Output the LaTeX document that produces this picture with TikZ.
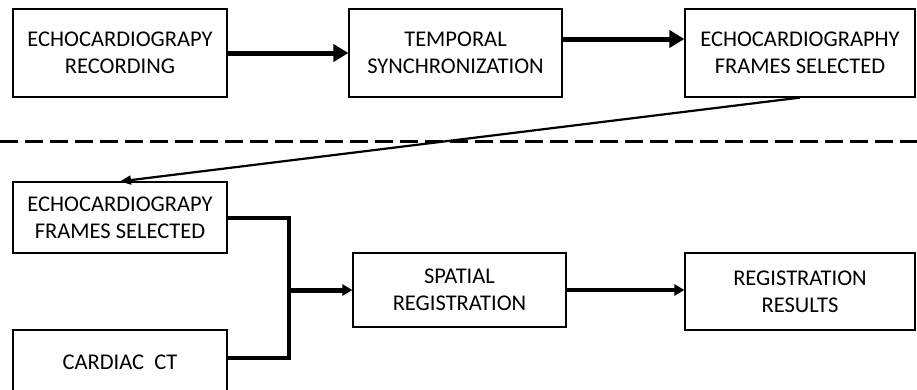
\documentclass[tikz,border=0pt]{standalone}
\usepackage{fontspec}
\setmainfont{Carlito}
\usetikzlibrary{arrows.meta}

\begin{document}
\begin{tikzpicture}[x=1pt,y=-1pt,
  blk/.style={draw,line width=1.2pt,inner sep=0pt,align=center,
    font=\fontsize{22.5}{27}\selectfont},
  bigarrow/.style={line width=5pt,-{Triangle[length=15pt,width=17pt]}},
  midarrow/.style={line width=3.5pt,-{Triangle[length=10pt,width=11pt]}},
  thinarrow/.style={line width=2.2pt,-{Triangle[length=11pt,width=9pt]}}]
\useasboundingbox (0,0) rectangle (917,389);
% top row
\node[blk,minimum width=214pt,minimum height=88pt] (rec) at (120,53) {ECHOCARDIOGRAPY\\RECORDING};
\node[blk,minimum width=213pt,minimum height=88pt] (sync) at (455.5,53) {TEMPORAL\\SYNCHRONIZATION};
\node[blk,minimum width=230pt,minimum height=88pt] (sel1) at (800,53) {ECHOCARDIOGRAPHY\\FRAMES SELECTED};
\draw[bigarrow] (rec) -- (sync);
\draw[bigarrow] ([yshift=14pt]sync.east) -- ([yshift=14pt]sel1.west);
% separator
\coordinate (dl) at (0,141);
\coordinate (dr) at (917,141);
\draw[line width=3pt,dash pattern=on 18pt off 7pt] (dl) -- (dr);
% bottom row
\node[blk,minimum width=214pt,minimum height=71pt] (sel2) at (120,217.5) {ECHOCARDIOGRAPY\\FRAMES SELECTED};
\node[blk,minimum width=214pt,minimum height=64pt] (ct) at (120,362) {CARDIAC\ \ CT};
\node[blk,minimum width=213pt,minimum height=74pt] (spat) at (459.5,290) {SPATIAL\\REGISTRATION};
\node[blk,minimum width=230pt,minimum height=77pt] (res) at (800,291.5) {REGISTRATION\\RESULTS};
\draw[thinarrow] (sel1.south) -- (sel2.north);
\coordinate (join) at (289,290);
\draw[line width=4pt] (sel2.east) -| (join) |- ([yshift=4pt]ct.east);
\draw[midarrow,line width=5pt] (join) -- (spat.west);
\draw[midarrow] (spat.east) -- (spat.east -| res.west);
\end{tikzpicture}
\end{document}
